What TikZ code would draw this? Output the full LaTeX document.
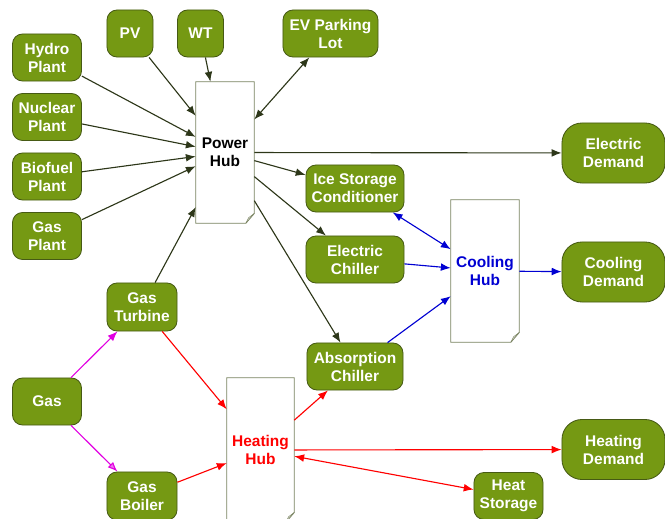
\documentclass[tikz,border=0pt]{standalone}
\usepackage{fontspec}
\setmainfont{Liberation Sans}
\usetikzlibrary{arrows.meta, calc}

\definecolor{plantgreen}{RGB}{117,153,19}
\definecolor{plantedge}{RGB}{70,90,20}
\definecolor{hubedge}{RGB}{120,130,95}
\definecolor{flowdark}{RGB}{45,55,25}
\definecolor{coolblue}{RGB}{0,0,210}
\definecolor{heatred}{RGB}{255,0,0}
\definecolor{gaspink}{RGB}{225,0,225}

\begin{document}
\begin{tikzpicture}[x=0.025cm, y=-0.025cm,
  every node/.style={font=\fontsize{11}{12.8}\selectfont\bfseries},
  unit/.style={rectangle, draw=plantedge, fill=plantgreen, text=white,
               rounded corners=0.25cm, line width=0.6pt, inner sep=0pt,
               minimum width=1.725cm, minimum height=1.175cm, align=center},
  demand/.style={unit, rounded corners=0.5cm,
                 minimum width=2.575cm, minimum height=1.5cm},
  hub/.style={rectangle, inner sep=0pt, align=center,
              minimum width=1.45cm, minimum height=3.525cm},
  hubline/.style={draw=hubedge, line width=0.6pt},
  flow/.style={-{Latex[length=7pt, width=5.5pt]}, line width=0.8pt, flowdark},
  coolflow/.style={flow, coolblue},
  heatflow/.style={flow, heatred},
  gasflow/.style={flow, gaspink}
]
  \useasboundingbox (0,0) rectangle (665,519);
  \clip (0,0) rectangle (665,519);

  % sources
  \node[unit] (hydro)   at (47,57.5)  {Hydro\\Plant};
  \node[unit] (nuclear) at (47,117)   {Nuclear\\Plant};
  \node[unit] (biofuel) at (47,176.5) {Biofuel\\Plant};
  \node[unit] (gasp)    at (47,236)   {Gas\\Plant};
  \node[unit, minimum width=1.15cm] (pv) at (130,33.5) {PV};
  \node[unit, minimum width=1.15cm] (wt) at (200.5,33.5) {WT};
  \node[unit, minimum width=2.375cm] (ev) at (330.5,33.5) {EV Parking\\Lot};
  \node[unit] (gas)     at (47,401.5) {Gas};
  \node[unit, minimum width=1.75cm, minimum height=1.2cm] (turbine) at (142,307) {Gas\\Turbine};
  \node[unit, minimum width=1.75cm, minimum height=1.2cm] (boiler)  at (142,496) {Gas\\Boiler};

  % converters
  \node[unit, minimum width=2.45cm] (ice)   at (355,188.5) {Ice Storage\\Conditioner};
  \node[unit, minimum width=2.45cm] (echil) at (355,259.5) {Electric\\Chiller};
  \node[unit, minimum width=2.4cm]  (achil) at (355,366.5) {Absorption\\Chiller};
  \node[unit] (hstore) at (508.5,496) {Heat\\Storage};

  % hubs
  \node[hub] (power) at (225,152.5) {Power\\Hub};
  \node[hub, minimum width=1.7cm, minimum height=3.55cm, text=coolblue] (cool) at (485,271) {Cooling\\Hub};
  \node[hub, minimum width=1.675cm, minimum height=3.6cm, text=heatred] (heat) at (260.5,450) {Heating\\Hub};
  \foreach \h in {power, cool, heat}{
    \draw[hubline] (\h.north west) -- (\h.north east) -- ([yshift=7pt]\h.south east)
      -- ([xshift=-6pt]\h.south east) -- (\h.south west) -- cycle;
    \draw[hubline, line width=0.4pt] ([yshift=7pt]\h.south east) -- ([xshift=-4pt,yshift=4pt]\h.south east)
      -- ([xshift=-6pt]\h.south east);
  }

  % demands
  \node[demand] (edem) at (613.5,153)   {Electric\\Demand};
  \node[demand] (cdem) at (613.5,272)   {Cooling\\Demand};
  \node[demand] (hdem) at (613.5,449.5) {Heating\\Demand};

  % power flows
  \foreach \n in {hydro, nuclear, biofuel, gasp, pv, wt, turbine}{
    \draw[flow] (\n) -- (power);
  }
  \draw[flow, {Latex[length=7pt, width=5.5pt]}-{Latex[length=7pt, width=5.5pt]}] (ev) -- (power);
  \foreach \n in {edem, ice, echil, achil}{
    \draw[flow] (power) -- (\n);
  }

  % cooling flows
  \draw[coolflow, {Latex[length=7pt, width=5.5pt]}-{Latex[length=7pt, width=5.5pt]}] (ice) -- (cool);
  \draw[coolflow] (echil) -- (cool);
  \draw[coolflow] (achil) -- (cool);
  \draw[coolflow] (cool) -- (cdem);

  % gas and heating flows
  \draw[gasflow] (gas) -- (turbine);
  \draw[gasflow, -{Latex[length=7pt, width=5.5pt, fill=gaspink!55]}] (gas) -- (boiler);
  \draw[heatflow] (turbine) -- (heat);
  \draw[heatflow] (boiler) -- (heat);
  \draw[heatflow] (heat) -- (achil);
  \draw[heatflow] (heat) -- (hdem);
  \draw[heatflow, {Latex[length=7pt, width=5.5pt]}-{Latex[length=7pt, width=5.5pt]}] (heat) -- (hstore);

\end{tikzpicture}
\end{document}
